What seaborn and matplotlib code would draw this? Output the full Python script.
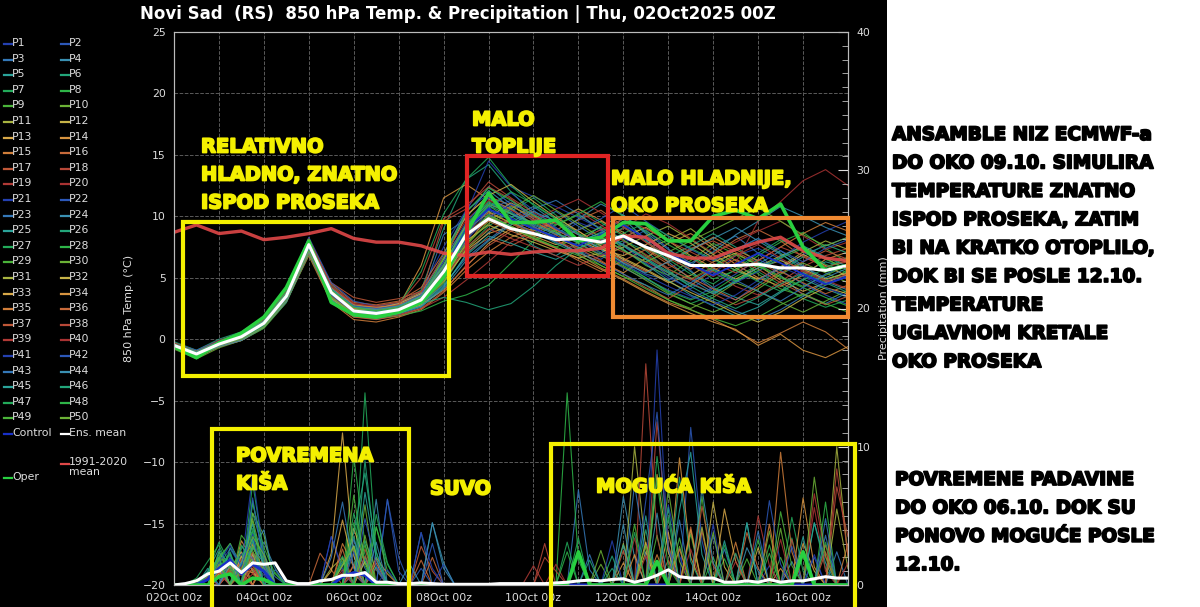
import numpy as np
import pandas as pd
import matplotlib
matplotlib.use('Agg')
import matplotlib.pyplot as plt
import matplotlib.patheffects as pe
from matplotlib.patches import Rectangle
from matplotlib.lines import Line2D
from matplotlib.ticker import MultipleLocator
import seaborn as sns

# vremenski koraci (sati od 02Oct 00z)
temp_hours = list(range(0, 361, 12))
rain_hours = list(range(0, 361, 6))

# 850 hPa temperatura, clanovi ansambla P1..P50 (korak 12h)
temp_members = [
    [-0.3,-1.0,-0.2,0.5,1.6,3.9,7.2,3.5,2.0,1.8, 2.6,3.9,7.5,10.5,11.8,10.2,9.0,8.4,9.5,8.8, 7.6,6.2,5.0,4.1,5.3,6.8,7.4,6.5,5.2,4.4, 5.1],
    [-0.6,-1.4,-0.5,0.1,1.0,3.2,7.9,4.2,2.5,2.0, 2.2,2.9,4.8,7.9,10.6,11.3,9.8,8.7,7.2,6.5, 7.8,8.9,7.4,5.6,3.9,3.2,4.5,5.8,6.9,7.6, 8.3],
    [-0.4,-1.1,-0.3,0.4,1.5,3.8,7.5,3.9,2.6,2.4, 2.8,3.4,8.5,9.8,12.4,11.0,9.6,10.4,9.2,8.1, 6.4,5.3,4.8,6.0,7.5,8.4,7.0,5.2,3.6,2.9, 3.8],
    [-0.5,-1.3,-0.6,0.0,1.1,3.1,7.0,3.2,1.9,1.6, 2.0,2.6,4.2,6.9,8.7,9.9,10.8,9.5,8.0,8.6, 9.8,8.1,6.3,4.9,3.8,4.6,6.1,7.2,6.0,4.7, 4.0],
    [-0.7,-1.5,-0.4,0.3,1.4,3.6,7.8,3.6,2.2,2.3, 2.5,3.0,5.0,8.2,10.2,9.1,7.6,6.8,7.9,9.2, 10.1,8.6,6.9,5.5,4.2,3.4,2.8,3.9,5.4,6.3, 5.8],
    [-0.2,-0.9,0.0,0.6,1.8,4.1,8.2,4.4,2.8,2.5, 2.9,4.0,9.0,13.0,14.2,12.0,10.2,9.0,8.2,7.4, 8.0,7.2,5.6,4.3,5.9,7.3,8.2,7.0,5.6,4.8, 5.5],
    [-0.5,-1.2,-0.3,0.2,1.2,3.4,7.6,3.8,2.4,2.0, 2.1,2.7,4.5,7.4,9.2,10.4,11.5,10.1,8.6,7.5, 6.2,5.0,3.8,2.9,3.6,4.8,5.5,4.4,3.3,2.6, 3.2],
    [-0.6,-1.3,-0.5,0.0,1.0,3.3,7.4,3.4,2.1,2.2, 2.6,3.5,6.0,9.4,11.2,10.3,9.1,8.3,7.6,8.4, 9.4,8.2,7.0,6.1,4.9,5.6,6.8,7.9,8.7,7.4, 6.2],
    [-0.4,-1.1,-0.4,0.3,1.4,3.7,8.0,4.0,2.5,2.1, 2.3,3.1,5.6,8.8,10.9,9.6,8.4,9.3,10.1,9.0, 7.3,6.0,5.2,6.4,7.8,6.9,5.3,4.1,3.5,4.4, 5.7],
    [-0.8,-1.6,-0.7,-0.1,0.9,3.0,7.1,3.1,1.8,1.7, 2.1,2.8,4.6,7.6,9.6,10.8,10.0,8.8,7.2,6.0, 5.1,4.4,3.2,2.5,3.4,4.6,3.9,3.0,2.2,3.1, 4.0],
    [-0.3,-1.0,-0.2,0.4,1.5,3.6,7.3,3.7,2.6,2.7, 3.0,3.8,6.6,9.2,10.4,9.4,8.6,8.0,8.9,9.6, 8.7,7.3,8.1,9.0,7.6,6.4,5.9,6.8,7.5,6.6, 5.6],
    [-0.5,-1.2,-0.4,0.2,1.3,3.5,7.7,3.9,2.2,2.0, 2.4,3.3,5.2,8.0,9.3,8.5,7.9,7.2,6.6,7.0, 8.3,9.1,8.0,6.8,5.8,4.9,5.8,6.4,5.7,4.9, 5.4],
    [-0.6,-1.3,-0.3,0.2,1.2,3.4,7.5,3.6,2.0,1.9, 2.3,3.0,4.9,7.2,8.6,9.2,8.4,7.7,8.3,7.4, 6.5,5.6,4.6,5.2,6.3,7.0,6.0,4.8,3.9,4.6, 5.3],
    [-0.4,-1.1,-0.5,0.1,1.4,3.8,7.9,4.1,2.7,2.6, 2.7,6.0,11.5,12.6,11.4,10.6,9.2,8.1,7.0,6.3, 5.4,6.6,7.8,8.6,7.4,6.1,5.0,4.3,5.2,6.5, 7.1],
    [-0.5,-1.2,-0.6,-0.1,1.0,3.1,6.8,3.0,1.6,1.4, 1.8,2.4,3.8,5.6,7.1,8.3,9.0,8.1,6.9,5.8, 4.9,3.9,3.0,2.4,1.6,0.7,-0.3,0.5,1.4,0.6, -0.8],
    [-0.3,-1.0,-0.3,0.3,1.6,3.9,8.1,4.5,3.0,2.8, 3.1,4.2,7.0,10.1,11.6,10.9,9.8,8.9,9.7,10.5, 9.2,7.9,6.6,5.7,6.9,8.1,8.9,8.0,6.7,5.9, 6.4],
    [-0.7,-1.4,-0.5,0.2,1.3,3.5,7.6,4.6,3.4,3.0, 3.3,3.9,5.4,7.1,8.2,7.6,8.5,9.6,8.8,7.6, 6.3,5.5,6.3,7.4,8.0,7.1,6.2,5.4,6.3,7.2, 6.5],
    [-0.5,-1.2,-0.4,0.2,1.2,3.3,7.2,3.5,2.3,2.4, 2.8,3.6,9.6,10.6,12.8,11.5,10.3,9.4,8.5,7.8, 7.1,6.3,5.4,4.6,3.7,2.8,3.5,4.7,5.9,6.8, 7.4],
    [-0.6,-1.3,-0.4,0.1,1.1,3.2,7.4,3.7,2.1,1.8, 2.0,2.5,3.4,4.8,6.3,7.9,8.8,9.9,10.4,9.3, 8.0,6.9,5.8,6.6,5.5,4.3,3.6,4.4,5.6,4.8, 4.1],
    [-0.4,-1.1,-0.2,0.4,1.5,3.7,7.8,4.3,2.9,2.6, 2.7,3.4,5.8,8.7,10.0,9.4,8.7,8.0,7.3,8.1, 9.0,10.2,9.4,8.2,7.0,7.9,8.8,9.6,8.4,7.3, 7.9],
    [-0.5,-1.2,-0.5,0.1,1.2,3.4,7.6,3.8,2.4,2.2, 2.5,3.3,6.3,10.2,14.5,12.4,11.6,10.8,9.9,9.0, 8.2,7.5,6.8,6.0,5.4,4.6,5.5,6.6,7.9,8.8, 9.6],
    [-0.3,-0.9,-0.1,0.5,1.7,4.0,8.3,4.6,3.1,2.7, 2.9,3.7,5.9,9.0,10.7,11.9,10.5,9.1,7.8,6.9, 5.8,4.9,4.0,3.3,4.2,5.3,6.5,5.6,4.5,3.6, 2.8],
    [-0.6,-1.4,-0.6,0.0,1.0,3.0,7.0,3.3,2.0,1.9, 2.2,2.9,4.4,6.6,8.1,9.5,10.6,11.3,10.2,8.9, 7.6,6.5,5.2,4.0,3.1,2.3,1.6,2.4,3.5,4.7, 5.2],
    [-0.4,-1.1,-0.3,0.3,1.4,3.6,7.9,3.9,2.5,2.3, 2.6,3.5,6.9,10.4,12.1,10.7,9.3,8.5,9.8,11.0, 10.1,8.7,7.3,6.2,7.1,8.5,9.6,10.8,10.0,9.1, 8.4],
    [-0.5,-1.3,-0.5,0.0,1.1,3.3,7.3,3.4,2.0,1.8, 2.1,2.7,4.3,6.8,8.4,7.8,7.1,6.5,7.4,8.2, 7.3,6.1,4.8,3.6,2.7,1.9,2.6,3.8,4.9,4.1, 3.4],
    [-0.6,-1.3,-0.4,0.2,1.3,3.5,7.7,3.8,2.3,2.1, 2.3,3.1,5.7,9.1,10.9,10.0,8.9,7.8,6.9,7.9, 9.1,8.0,6.7,7.6,8.6,7.5,6.3,5.6,6.7,7.7, 7.0],
    [-0.4,-1.0,-0.3,0.3,1.4,3.7,7.9,4.2,2.7,2.5, 2.8,5.5,10.2,13.0,14.8,12.5,10.9,9.8,10.6,9.5, 8.4,7.4,6.5,5.3,4.5,5.7,7.0,8.1,7.2,6.1, 5.4],
    [-0.7,-1.5,-0.6,-0.1,0.9,3.0,6.9,3.2,1.9,1.7, 1.9,2.3,3.1,3.6,4.4,6.2,8.0,8.9,8.1,7.0, 6.0,5.0,3.9,3.2,3.9,5.1,6.0,5.0,4.2,3.4, 2.7],
    [-0.5,-1.2,-0.4,0.2,1.2,3.4,7.5,3.7,2.2,2.0, 2.4,3.2,5.3,8.4,10.1,9.2,8.3,7.5,8.3,9.1, 8.1,6.8,5.7,4.9,5.9,6.9,6.1,5.1,4.3,5.2, 6.0],
    [-0.3,-1.0,-0.2,0.4,1.6,3.8,8.0,4.0,2.6,2.4, 2.7,3.6,6.1,9.3,11.0,10.2,9.5,8.7,7.8,6.8, 5.9,4.8,3.7,2.9,2.2,3.0,4.1,5.3,6.2,5.4, 4.6],
    [-0.6,-1.3,-0.5,0.1,1.1,3.2,7.2,3.5,2.1,2.0, 2.3,3.0,4.7,7.3,8.9,9.7,9.0,8.2,7.5,6.7, 7.5,8.4,9.2,8.1,6.9,5.8,4.8,5.9,7.1,8.0, 7.3],
    [-0.4,-1.1,-0.3,0.3,1.3,3.5,7.6,3.9,2.5,2.3, 2.6,3.4,6.5,10.0,11.7,12.6,11.2,9.9,8.8,7.6, 6.6,5.7,4.7,3.8,3.0,2.1,1.4,2.2,3.3,4.2, 3.7],
    [-0.5,-1.2,-0.4,0.1,1.2,3.3,7.4,3.6,2.4,2.5, 2.9,3.7,5.1,7.7,9.9,11.1,10.1,8.9,8.0,7.3, 6.8,7.7,8.6,7.8,6.6,5.6,4.9,5.8,6.9,6.0, 5.1],
    [-0.6,-1.4,-0.6,0.0,1.0,3.1,7.1,3.3,2.0,1.9, 2.2,2.8,4.0,5.9,7.8,9.0,8.2,7.4,6.6,5.7, 4.8,3.8,2.9,2.1,1.4,0.8,-0.5,0.4,-0.9,-1.5, -0.6],
    [-0.4,-1.0,-0.2,0.4,1.5,3.8,8.1,4.2,2.8,2.6, 2.8,3.5,5.9,8.9,10.3,9.5,8.8,9.6,10.6,9.7, 8.5,7.4,6.3,7.2,8.3,7.3,6.4,7.5,8.6,9.5, 8.8],
    [-0.5,-1.2,-0.5,0.1,1.2,3.4,7.5,3.8,2.5,2.4, 2.6,3.3,5.5,8.3,9.6,8.8,8.1,7.4,6.4,5.5, 6.4,7.3,6.1,5.0,4.1,3.2,4.3,5.5,4.6,3.7, 4.4],
    [-0.7,-1.5,-0.6,-0.1,1.0,3.1,7.0,3.1,1.8,1.6, 1.9,2.5,3.9,6.0,7.6,8.8,9.7,8.5,7.4,6.4, 5.3,4.2,3.3,4.4,5.6,6.5,5.7,4.6,3.7,2.8, 3.5],
    [-0.4,-1.1,-0.3,0.2,1.3,3.5,7.7,4.0,2.6,2.4, 2.8,5.0,9.8,10.9,12.4,11.4,10.0,8.9,8.1,8.9, 9.8,9.0,8.0,7.1,6.2,5.4,6.4,7.5,6.8,5.9, 6.3],
    [-0.5,-1.3,-0.4,0.1,1.2,3.3,7.3,3.5,2.2,2.1, 2.4,3.1,4.8,7.5,9.0,8.2,7.5,6.8,6.0,6.8, 7.7,6.7,5.7,4.8,5.8,6.8,7.7,6.6,5.5,4.7, 5.3],
    [-0.3,-1.0,-0.1,0.5,1.6,3.9,8.2,4.3,2.9,2.7, 3.0,3.9,6.7,9.7,11.3,10.5,9.7,10.6,11.4,10.3, 9.1,7.9,6.9,6.0,5.1,6.2,9.6,11.2,12.9,13.8, 12.5],
    [-0.6,-1.3,-0.5,0.0,1.1,3.2,7.3,3.6,2.2,2.0, 2.3,3.0,5.1,8.1,9.9,11.0,10.2,9.0,8.0,7.1, 6.1,5.2,4.3,3.5,2.8,3.6,4.8,5.9,5.1,4.2, 3.5],
    [-0.4,-1.1,-0.4,0.3,1.4,3.6,7.8,4.1,2.7,2.5, 2.7,3.6,6.3,9.5,11.5,10.4,9.2,8.1,8.9,9.8, 10.9,9.6,8.4,7.3,6.4,7.3,8.2,7.2,6.3,7.4, 8.1],
    [-0.5,-1.2,-0.3,0.2,1.3,3.5,7.6,3.7,2.3,2.2, 2.5,3.3,5.4,8.6,10.5,9.7,8.6,7.9,7.1,6.2, 5.3,4.4,3.6,4.6,5.7,4.8,3.9,3.1,4.2,5.3, 6.1],
    [-0.7,-1.4,-0.6,-0.1,1.0,3.1,7.1,3.2,1.9,1.8, 2.1,2.7,4.1,6.4,8.0,9.3,10.4,9.6,8.5,7.3, 6.2,5.4,6.3,7.3,8.2,9.1,8.0,6.9,5.9,5.0, 5.8],
    [-0.4,-1.0,-0.2,0.4,1.5,3.8,8.0,4.1,2.6,2.4, 2.7,3.5,6.0,9.2,11.1,10.2,9.4,8.6,7.9,8.7, 7.7,6.6,5.5,4.5,3.7,4.7,5.8,6.7,7.6,6.7, 5.9],
    [-0.5,-1.2,-0.4,0.1,1.2,3.4,7.5,3.8,2.2,2.0, 2.2,2.9,3.4,3.0,2.4,2.9,4.3,6.0,7.4,8.3, 7.6,6.5,5.4,4.3,3.3,2.5,3.4,4.5,5.4,4.6, 3.8],
    [-0.6,-1.3,-0.5,0.1,1.1,3.3,7.4,3.6,2.4,2.3, 2.6,3.4,5.8,9.0,10.8,12.0,11.0,9.8,8.6,7.7, 8.6,9.5,8.4,7.4,6.5,5.6,4.7,3.9,4.8,5.8, 6.7],
    [-0.4,-1.1,-0.3,0.3,1.4,3.7,7.9,4.0,2.6,2.3, 2.5,3.3,6.6,10.3,12.3,11.3,10.1,9.3,10.2,11.2, 10.0,8.8,7.7,6.7,5.6,4.7,5.6,6.6,7.4,6.5, 5.7],
    [-0.5,-1.2,-0.4,0.2,1.3,3.5,7.7,3.9,2.4,2.1, 2.4,3.2,5.5,8.4,10.0,9.1,8.2,7.5,6.8,6.0, 5.1,4.1,3.2,2.4,1.7,1.1,1.8,2.8,3.7,2.9, 2.2],
    [-0.6,-1.4,-0.5,0.0,1.0,3.2,7.2,3.4,2.1,1.9, 2.2,2.9,4.9,7.8,9.4,10.6,11.7,10.5,9.4,8.3, 7.2,6.3,7.1,8.0,8.9,9.8,10.7,9.6,8.5,7.6, 8.3],
]
temp_control = [-0.5,-1.2,-0.4,0.2,1.3,3.4,7.6,3.7,2.3,2.1, 2.4,3.2,5.6,8.9,10.6,9.8,9.0,8.3,7.6,8.5,
                9.3,8.2,7.0,6.1,5.2,6.1,7.0,6.2,5.3,4.5, 5.1]
temp_mean = [-0.5,-1.2,-0.4,0.2,1.3,3.5,7.7,3.8,2.3,2.1, 2.4,3.2,5.5,8.5,9.8,9.0,8.6,8.1,8.2,7.9,
             8.4,7.5,6.8,6.0,6.0,6.0,6.1,5.8,5.8,5.6, 6.0]
temp_oper = [-0.6,-1.5,-0.3,0.5,1.8,4.2,8.0,3.0,2.0,1.8, 2.2,3.0,5.0,8.6,11.9,9.5,9.5,9.7,8.0,8.3,
             9.5,9.4,8.0,8.0,10.0,10.5,9.8,11.0,7.5,5.6, 6.0]
temp_clim = [8.7,9.3,8.6,8.8,8.1,8.3,8.6,9.0,8.2,7.9, 7.9,7.6,7.0,6.8,7.1,6.9,7.1,7.2,7.2,7.4,
             8.4,8.3,7.0,6.6,6.6,7.3,7.9,8.3,7.2,6.6, 6.4]

# padavine (mm / 6h): (korak, mm) za svaki clan, ostalo 0
rain_members = [
    [(4,1.2),(5,2.1),(6,1.0),(7,1.6),(8,0.7),(14,3.5),(15,1.2),(43,17.0),(44,2.5),(53,1.4)],
    [(3,0.6),(4,1.5),(6,2.3),(7,1.1),(17,1.8),(19,6.2),(20,1.0),(46,11.4),(47,3.2),(57,2.0)],
    [(4,0.9),(5,1.6),(7,2.8),(8,1.9),(9,0.6),(16,0.8),(22,3.8),(36,6.9),(37,1.1),(49,2.6),(58,3.6)],
    [(5,1.4),(6,0.8),(7,1.7),(8,3.1),(9,1.2),(18,6.2),(23,4.5),(24,1.2),(40,6.4),(41,2.0),(55,1.7)],
    [(3,1.0),(4,2.6),(5,1.3),(7,5.2),(8,2.4),(17,3.2),(18,1.1),(45,5.4),(46,9.6),(47,2.2),(51,4.5)],
    [(4,1.8),(5,3.0),(6,1.2),(7,2.0),(15,1.4),(16,3.5),(39,2.1),(42,4.0),(57,4.5),(58,1.2)],
    [(2,0.5),(3,1.7),(4,2.9),(5,1.0),(7,7.4),(8,2.2),(17,13.9),(18,2.4),(35,3.1),(44,4.9),(55,4.9),(56,1.0)],
    [(4,1.4),(6,2.6),(7,3.9),(8,1.5),(16,9.3),(17,3.0),(35,13.9),(36,1.8),(49,1.9),(52,3.3)],
    [(3,0.8),(4,2.0),(5,3.0),(6,1.4),(7,4.6),(9,0.9),(16,2.4),(18,4.2),(19,1.0),(43,3.6),(47,6.4),(54,2.0)],
    [(4,1.6),(5,0.9),(7,5.2),(8,3.6),(15,1.9),(17,5.8),(38,1.5),(45,2.8),(53,3.9)],
    [(4,0.9),(6,1.7),(7,2.3),(8,1.1),(14,1.2),(15,2.0),(41,10.0),(42,2.6),(59,10.0),(60,2.0)],
    [(5,1.2),(6,2.4),(7,1.0),(16,4.1),(17,1.6),(42,2.4),(48,6.0),(49,1.3)],
    [(4,0.7),(5,1.8),(7,2.9),(8,0.9),(14,2.3),(15,11.0),(16,2.1),(44,3.8),(56,3.0),(57,1.0)],
    [(4,1.3),(6,3.2),(7,1.8),(18,2.0),(19,0.8),(40,1.6),(45,9.2),(46,2.0),(54,1.2)],
    [(5,1.0),(6,1.5),(8,2.2),(15,3.0),(16,1.3),(43,2.2),(50,3.1),(54,9.6),(55,2.4)],
    [(3,0.6),(4,1.9),(6,0.8),(7,1.4),(13,2.3),(14,1.1),(23,2.0),(46,4.2),(58,2.9)],
    [(5,0.9),(7,2.4),(8,1.3),(17,2.6),(22,2.8),(23,1.0),(47,3.9),(56,2.2)],
    [(4,1.1),(6,1.9),(7,0.8),(16,1.5),(33,2.0),(34,1.0),(42,16.0),(43,3.5),(59,7.1),(60,3.5)],
    [(5,1.4),(6,0.7),(8,1.6),(18,1.2),(32,1.4),(44,2.8),(52,5.0),(53,1.4)],
    [(4,0.8),(6,2.1),(7,1.2),(15,0.9),(41,3.4),(50,2.2),(57,5.6),(58,1.0)],
    [(4,1.5),(5,2.6),(6,1.3),(7,8.0),(8,2.1),(14,3.5),(15,1.0),(24,1.5),(44,5.8),(45,2.1),(56,2.5)],
    [(3,0.7),(5,1.9),(7,2.2),(8,1.0),(19,6.2),(20,2.0),(22,1.2),(48,3.6),(53,6.1),(54,1.5)],
    [(4,1.0),(5,2.3),(7,3.3),(9,1.1),(16,3.3),(17,1.2),(37,2.2),(41,7.3),(42,1.9),(59,2.4)],
    [(4,1.8),(6,1.0),(7,2.6),(8,4.0),(17,2.0),(23,4.5),(24,1.6),(40,4.4),(51,2.7),(52,1.0)],
    [(3,1.2),(5,2.7),(6,1.4),(7,3.4),(16,2.9),(18,1.3),(42,5.0),(49,3.2),(57,4.5),(58,1.6)],
    [(4,2.2),(5,1.1),(7,6.1),(8,1.8),(15,1.7),(17,9.0),(18,1.9),(39,1.2),(45,7.8),(46,1.7)],
    [(3,0.9),(4,3.1),(5,1.5),(6,2.0),(7,3.8),(16,5.2),(17,2.2),(36,3.4),(43,9.3),(44,2.8),(55,3.4)],
    [(4,1.3),(5,2.2),(7,5.9),(8,2.7),(9,0.8),(18,4.2),(19,1.5),(48,2.0),(53,2.3),(58,6.0)],
    [(4,1.7),(6,3.6),(7,2.5),(16,6.5),(17,1.4),(41,4.4),(46,3.7),(51,1.9)],
    [(2,0.4),(4,2.4),(5,1.0),(7,4.8),(8,1.3),(17,3.6),(38,2.5),(44,6.9),(45,1.7),(54,4.1)],
    [(5,1.3),(6,0.8),(7,1.9),(15,1.4),(16,2.8),(40,3.0),(47,4.2),(59,5.5),(60,1.2)],
    [(4,1.0),(6,2.1),(8,1.4),(17,1.7),(43,8.0),(44,2.4),(52,2.7)],
    [(4,0.8),(5,1.6),(7,2.2),(14,1.0),(15,4.7),(16,1.3),(42,3.1),(49,5.5),(50,1.7)],
    [(5,1.9),(6,1.1),(7,0.9),(18,1.6),(41,2.2),(46,4.0),(56,6.3),(57,1.3)],
    [(4,1.2),(6,1.7),(7,3.0),(8,0.9),(16,1.4),(45,2.6),(53,4.4),(60,3.0)],
    [(3,0.5),(5,1.4),(7,1.2),(15,2.6),(22,1.8),(44,1.8),(51,3.8),(52,1.2)],
    [(4,1.4),(6,0.9),(8,1.8),(17,2.1),(40,2.5),(47,5.7),(48,1.4),(58,2.4)],
    [(5,1.0),(7,1.6),(16,0.9),(33,3.0),(43,11.8),(44,2.9),(55,3.3),(59,8.4),(60,2.1)],
    [(4,0.9),(6,1.3),(7,2.0),(15,1.1),(42,2.1),(50,1.7),(57,6.6),(58,2.0)],
    [(5,1.2),(7,0.8),(8,1.4),(18,1.8),(34,1.5),(46,2.6),(54,3.3),(60,1.6)],
    [(4,1.6),(5,2.9),(6,1.4),(7,3.7),(16,2.4),(19,1.1),(22,3.8),(23,1.2),(39,3.2),(48,4.4),(57,2.2)],
    [(3,0.8),(5,2.0),(7,6.3),(8,1.4),(17,4.8),(18,1.4),(23,3.0),(42,6.1),(43,12.5),(44,2.7),(55,2.8)],
    [(4,1.2),(6,2.8),(7,1.9),(14,2.0),(15,6.0),(16,1.2),(45,4.7),(52,3.9),(58,4.8)],
    [(5,1.5),(6,0.9),(7,2.7),(8,1.6),(18,3.1),(21,1.5),(43,5.2),(47,7.0),(48,1.6)],
    [(3,0.9),(4,2.0),(6,1.6),(7,4.4),(8,1.2),(17,6.7),(18,1.9),(40,2.9),(51,4.5),(56,3.5)],
    [(4,2.4),(5,1.4),(7,3.2),(16,3.8),(17,8.1),(18,2.4),(37,1.8),(44,5.6),(50,2.3)],
    [(4,1.1),(5,2.4),(7,4.1),(8,1.7),(15,2.1),(18,5.1),(19,1.6),(41,3.8),(49,2.9),(58,3.1)],
    [(3,0.7),(4,1.9),(6,2.9),(7,1.6),(16,4.5),(17,1.7),(35,2.4),(43,7.6),(44,1.3),(53,2.9)],
    [(4,2.0),(5,1.2),(7,2.8),(8,1.0),(17,2.9),(45,3.4),(54,5.3),(55,1.4)],
    [(4,1.5),(6,1.1),(7,3.5),(8,2.2),(15,1.5),(16,2.7),(42,2.9),(48,3.8),(57,7.8),(58,2.1)],
]
rain_control = [(3,0.4),(4,1.2),(5,1.8),(6,0.8),(7,1.5),(8,1.0),(15,0.6),(16,0.9),(17,0.7)]
rain_oper = [(4,0.6),(5,0.8),(7,0.5),(8,0.4),(36,2.4),(43,1.7),(56,2.4)]
rain_mean = [0.0,0.1,0.3,0.8,1.0,1.6,0.9,1.6,1.5,1.6, 0.3,0.1,0.1,0.3,0.4,0.7,0.7,0.9,0.2,0.2,
             0.1,0.1,0.15,0.1,0.05,0.05,0.05,0.05,0.05,0.1, 0.1,0.1,0.1,0.1,0.15,0.2,0.3,0.35,0.3,0.4,
             0.45,0.2,0.4,0.7,1.1,0.6,0.5,0.5,0.5,0.2, 0.2,0.3,0.2,0.4,0.2,0.3,0.3,0.45,0.6,0.5, 0.5]

member_names = ['P%d' % i for i in range(1, 51)]
cycle_colors = ['#2440b0', '#2c58b8', '#3478b8', '#3a90b2', '#2aa39a', '#22a67a', '#22aa5a', '#2eb548',
                '#4ab43a', '#6cb236', '#a8b440', '#c8b448', '#d8a848', '#d89440', '#d07e3a', '#c86a3a',
                '#c05838', '#b84838', '#b03a36', '#a83232']
xtick_hours = [0, 48, 96, 144, 192, 240, 288, 336]
xtick_labels = ['02Oct 00z', '04Oct 00z', '06Oct 00z', '08Oct 00z', '10Oct 00z', '12Oct 00z', '14Oct 00z', '16Oct 00z']

assert all(len(r) == len(temp_hours) for r in temp_members)

palette = {n: cycle_colors[i % 20] for i, n in enumerate(member_names)}


def rain_series(events):
    s = np.zeros(len(rain_hours))
    for step, mm in events:
        s[step] = mm
    return s


rows = []
for i, vals in enumerate(temp_members):
    for h, v in zip(temp_hours, vals):
        rows.append((member_names[i], h, v))
df_temp = pd.DataFrame(rows, columns=['member', 'hour', 'temp'])

rows = []
for i, ev in enumerate(rain_members):
    for h, v in zip(rain_hours, rain_series(ev)):
        rows.append((member_names[i], h, v))
df_rain = pd.DataFrame(rows, columns=['member', 'hour', 'mm'])

W, H = 1200, 607
def fx(x):
    return x / W
def fy(y):
    return 1 - y / H

fig = plt.figure(figsize=(12, 6.07), dpi=100, facecolor='black')
fig.add_artist(Rectangle((fx(887), 0), 1 - fx(887), 1, transform=fig.transFigure,
                         facecolor='white', edgecolor='none', zorder=0))

ax = fig.add_axes([fx(174), fy(585), (848 - 174) / W, (585 - 32) / H])
ax.set_facecolor('black')

# temperatura
sns.lineplot(data=df_temp, x='hour', y='temp', hue='member', palette=palette, estimator=None,
             legend=False, lw=0.8, alpha=0.85, ax=ax)
sns.lineplot(x=temp_hours, y=temp_control, color='#1830c8', lw=1.3, ax=ax)
sns.lineplot(x=temp_hours, y=temp_clim, color='#e04848', lw=2.4, alpha=0.9, ax=ax)
sns.lineplot(x=temp_hours, y=temp_oper, color='#28d040', lw=2.6, ax=ax)
sns.lineplot(x=temp_hours, y=temp_mean, color='white', lw=2.2, ax=ax)

ax.set_xlim(0, 360)
ax.set_ylim(-20, 25)
ax.set_yticks(range(-20, 26, 5))
ax.set_xticks(xtick_hours)
ax.set_xticklabels(xtick_labels)
ax.set_xticks(range(0, 361, 24), minor=True)
ax.grid(True, which='both', axis='x', color='#5a5a5a', ls='--', lw=0.7)
ax.grid(True, which='major', axis='y', color='#5a5a5a', ls='--', lw=0.7)
ax.set_axisbelow(True)
ax.tick_params(axis='both', which='both', length=0, colors='#dddddd', labelsize=7.8, pad=6)
ax.set_xlabel('')
ax.set_ylabel('850 hPa Temp. (°C)', color='#dddddd', fontsize=8, labelpad=6)
for s in ax.spines.values():
    s.set_color('#bbbbbb')

# padavine
ax2 = ax.twinx()
sns.lineplot(data=df_rain, x='hour', y='mm', hue='member', palette=palette, estimator=None,
             legend=False, lw=0.8, alpha=0.85, ax=ax2)
sns.lineplot(x=rain_hours, y=rain_series(rain_control), color='#1830c8', lw=2.2, ax=ax2)
sns.lineplot(x=rain_hours, y=rain_series(rain_oper), color='#28d040', lw=2.6, ax=ax2)
sns.lineplot(x=rain_hours, y=rain_mean, color='white', lw=2.2, ax=ax2)
ax2.set_ylim(0, 40)
ax2.set_xlim(0, 360)
ax2.yaxis.set_major_locator(MultipleLocator(10))
ax2.yaxis.set_minor_locator(MultipleLocator(1))
ax2.tick_params(axis='y', which='major', direction='in', length=7, colors='#dddddd', labelsize=7.8, pad=6)
ax2.tick_params(axis='y', which='minor', direction='in', length=4, colors='#bbbbbb')
ax2.set_ylabel('Precipitation (mm)', color='#dddddd', fontsize=8, labelpad=6)
ax2.set_xlabel('')
for s in ax2.spines.values():
    s.set_color('#bbbbbb')

fig.text(fx(458), fy(14), 'Novi Sad  (RS)  850 hPa Temp. & Precipitation | Thu, 02Oct2025 00Z',
         ha='center', va='center', color='white', fontsize=12, fontweight='bold')

# legenda
leg_names = member_names + ['Control', 'Ens. mean']
leg_colors = [palette[n] for n in member_names] + ['#1830c8', 'white']
for i, (name, col) in enumerate(zip(leg_names, leg_colors)):
    r, c = divmod(i, 2)
    y = 43 + r * 15.6
    x0 = 4 if c == 0 else 61
    fig.add_artist(Line2D([fx(x0), fx(x0 + 8)], [fy(y + 1), fy(y + 1)], transform=fig.transFigure,
                          color=col, lw=1.6))
    fig.text(fx(x0 + 8), fy(y), name, color='#dddddd', fontsize=7.8, va='center', ha='left')
fig.add_artist(Line2D([fx(4), fx(12)], [fy(478), fy(478)], transform=fig.transFigure, color='#28d040', lw=1.6))
fig.text(fx(12), fy(477), 'Oper', color='#dddddd', fontsize=7.8, va='center', ha='left')
fig.add_artist(Line2D([fx(61), fx(69)], [fy(464), fy(464)], transform=fig.transFigure, color='#e04848', lw=1.6))
fig.text(fx(69), fy(457), '1991-2020\nmean', color='#dddddd', fontsize=7.8, va='top', ha='left',
         linespacing=0.95)

# oznake
yellow = '#f4f000'
def box(x1, y1, x2, y2, col):
    fig.add_artist(Rectangle((fx(x1), fy(y2)), fx(x2) - fx(x1), fy(y1) - fy(y2), transform=fig.transFigure,
                             fill=False, edgecolor=col, lw=3, zorder=10))

box(183, 222, 449, 376, yellow)
box(467, 156, 608, 276, '#e02424')
box(613, 218, 848, 317, '#f08a32')
box(212, 429, 409, 612, yellow)
box(551, 444, 855, 612, yellow)

def note(x, y, txt, col=yellow, size=14):
    fig.text(fx(x), fy(y), txt, color=col, fontsize=size, fontweight='bold', ha='left', va='center', zorder=11,
             path_effects=[pe.withStroke(linewidth=1.3, foreground=col)])

note(201, 147, 'RELATIVNO')
note(201, 175, 'HLADNO, ZNATNO')
note(201, 203, 'ISPOD PROSEKA')
note(472, 120, 'MALO')
note(472, 147, 'TOPLIJE')
note(611, 179, 'MALO HLADNIJE,')
note(611, 206, 'OKO PROSEKA')
note(236, 456, 'POVREMENA')
note(236, 484, 'KIŠA')
note(430, 489, 'SUVO')
note(596, 487, 'MOGUĆA KIŠA')

right_lines = ['ANSAMBLE NIZ ECMWF-a', 'DO OKO 09.10. SIMULIRA', 'TEMPERATURE ZNATNO', 'ISPOD PROSEKA, ZATIM',
               'BI NA KRATKO OTOPLILO,', 'DOK BI SE POSLE 12.10.', 'TEMPERATURE', 'UGLAVNOM KRETALE', 'OKO PROSEKA']
for i, t in enumerate(right_lines):
    note(892, 135 + i * 28.4, t, col='black', size=13.3)
bottom_lines = ['POVREMENE PADAVINE', 'DO OKO 06.10. DOK SU', 'PONOVO MOGUĆE POSLE', '12.10.']
for i, t in enumerate(bottom_lines):
    note(895, 480 + i * 28.4, t, col='black', size=13.3)

fig.savefig('out.png', dpi=100, facecolor=fig.get_facecolor())
